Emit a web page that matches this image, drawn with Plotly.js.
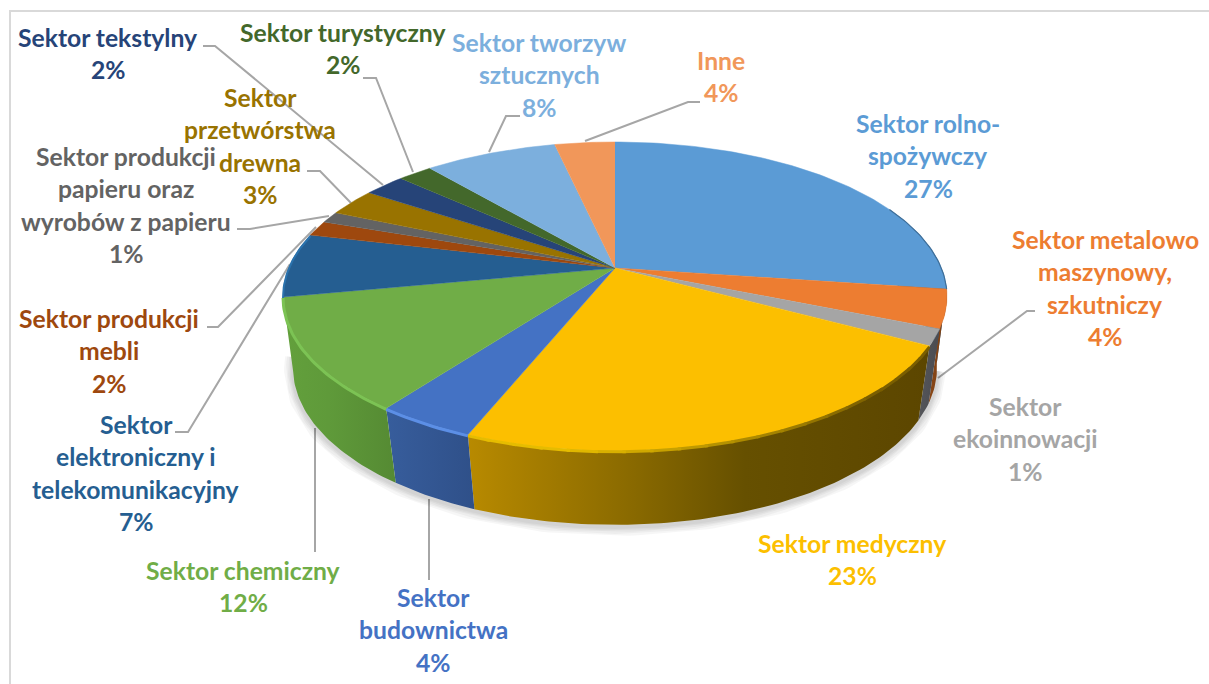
<!DOCTYPE html>
<html><head><meta charset="utf-8">
<script src="https://cdn.plot.ly/plotly-3.0.1.min.js"></script>
<style>html,body{margin:0;padding:0;background:#fff}#chart{width:1209px;height:684px}</style>
</head><body><div id="chart"></div>
<script>
// ---- data ----
const categories = ["Sektor rolno-spożywczy","Sektor metalowo maszynowy, szkutniczy","Sektor ekoinnowacji","Sektor medyczny","Sektor budownictwa","Sektor chemiczny","Sektor elektroniczny i telekomunikacyjny","Sektor produkcji mebli","Sektor produkcji papieru oraz wyrobów z papieru","Sektor przetwórstwa drewna","Sektor tekstylny","Sektor turystyczny","Sektor tworzyw sztucznych","Inne"];
const sliceShare = [27.2,4.0,1.7,23.2,4.1,11.8,6.7,1.6,1.2,2.9,2.4,2.0,7.7,3.5];
const percentLabels = ["27%","4%","1%","23%","4%","12%","7%","2%","1%","3%","2%","2%","8%","4%"];
const labelLines = [["Sektor rolno-","spożywczy"],["Sektor metalowo","maszynowy,","szkutniczy"],["Sektor","ekoinnowacji"],["Sektor medyczny"],["Sektor","budownictwa"],["Sektor chemiczny"],["Sektor","elektroniczny i","telekomunikacyjny"],["Sektor produkcji","mebli"],["Sektor produkcji","papieru oraz","wyrobów z papieru"],["Sektor","przetwórstwa","drewna"],["Sektor tekstylny"],["Sektor turystyczny"],["Sektor tworzyw","sztucznych"],["Inne"]];
const sliceColors = ["#5b9bd5","#ed7d31","#a5a5a5","#fcbf00","#4472c4","#70ad47","#255e91","#9e480e","#636363","#997300","#264478","#43682b","#7cafdd","#f1975a"];
const textColors = ["#5b9bd5","#ed7d31","#a5a5a5","#fcbf00","#4472c4","#70ad47","#255e91","#9e480e","#636363","#997300","#264478","#43682b","#7cafdd","#f1975a"];
const wallScales = [
 [[0,"#2f5a80"],[1,"#2f5a80"]],[[0,"#8a4818"],[1,"#7a3e12"]],[[0,"#55565a"],[1,"#4a4b50"]],
 [[0,"#b88a00"],[0.35,"#8a6a00"],[0.6,"#665000"],[1,"#5c4600"]],
 [[0,"#375d9c"],[1,"#2f5089"]],[[0,"#63a03c"],[0.4,"#5f9a3a"],[1,"#558a33"]],
 null,null,null,null,null,null,null,null];
const rimColors = [null,null,null,null,"#5c8fe6","#7cc354","#2a72ad",null,null,null,null,null,null,null];
const rimWidths = [0,0,0,0,3,3,2,0,0,0,0,0,0,0];

// layout of the labels (centre x, first line y)
const labelX = [928,1105,1025,852,433,243,136,109,126,260,108,343,539,721];
const labelY = [123,239,406,543,597,570,424,318,156,97,37,32,42,60];
const lineStep = 32.5;
const leaderPaths = ["M203 46 L215 46 L383 185","M363 78 L376 78 L413 172","M520 116 L506 116 L489 152","M700 102 L688 102 L585 141","M307 171 L320 171 L351 203","M237 229 L250 229 L329 216","M207 327 L218 327 L316 227","M175 432 L188 432 L290 264","M315 552 L315 428","M429 580 L429 499","M1035 311 L1027 311 L938 378"];

// ---- perspective projection of the pie discs ----
const topDisc = {cx:615, y0:268, A:326.3, B:149.2, k:0.184};
const botDisc = {cx:615, y0:341.6, A:317.4, B:152.5, k:0.168};
function proj(d, deg){
  const t = deg*Math.PI/180, X = Math.sin(t), Y = Math.cos(t), w = 1 + d.k*Y;
  return [d.cx + d.A*X/w, d.y0 - d.B*Y/w];
}
function arc(d, a, b){
  const pts = [], n = Math.max(2, Math.ceil(Math.abs(b-a)));
  for(let i=0;i<=n;i++) pts.push(proj(d, a+(b-a)*i/n));
  return pts;
}
const total = sliceShare.reduce((s,v)=>s+v,0);
let run = 0;
const bounds = sliceShare.map(v=>{const a=run/total*360; run+=v; return [a, run/total*360];});

const traces = [];
const xs = p=>p.map(q=>q[0]), ys = p=>p.map(q=>q[1]);

// soft shadow around the lower edge
[18,14,10,7,4].forEach(w=>{
  const p = arc(botDisc,100,265);
  traces.push({type:"scatter",mode:"lines",x:xs(p),y:ys(p).map(v=>v+2),hoverinfo:"skip",
    line:{color:"rgba(0,0,0,0.035)",width:w}});
});

// side walls
categories.forEach((c,i)=>{
  if(!wallScales[i]) return;
  const a = Math.max(bounds[i][0],70), b = bounds[i][1];
  const p = arc(topDisc,a,b).concat(arc(botDisc,b,a));
  traces.push({type:"scatter",mode:"lines",x:xs(p),y:ys(p),fill:"toself",hoverinfo:"skip",
    line:{width:0,color:wallScales[i][0][1]},
    fillcolor:wallScales[i][0][1],
    fillgradient:{type:"horizontal",colorscale:wallScales[i]}});
});

// top face
categories.forEach((c,i)=>{
  const p = [[topDisc.cx,topDisc.y0]].concat(arc(topDisc,bounds[i][0],bounds[i][1]));
  traces.push({type:"scatter",mode:"lines",name:c,x:xs(p),y:ys(p),fill:"toself",fillcolor:sliceColors[i],
    line:{width:0.5,color:sliceColors[i]},hoverinfo:"text",text:c+" "+percentLabels[i]});
});

// bevel along the front rim: the medical slice fades from dark to bright in short steps
const yb = bounds[3];
const fadeFrom = [122,94,0], fadeTo = [230,188,0], step = 4;
for(let a=yb[0]; a<yb[1]; a+=step){
  const f = Math.min(1, Math.max(0,(a-135)/(185-135)));
  const col = "rgb("+fadeFrom.map((v,n)=>Math.round(v+(fadeTo[n]-v)*f)).join(",")+")";
  const p = arc(topDisc,a,Math.min(a+step+0.5,yb[1]));
  traces.push({type:"scatter",mode:"lines",x:xs(p),y:ys(p).map(v=>v+1),hoverinfo:"skip",line:{color:col,width:3}});
}
categories.forEach((c,i)=>{
  if(!rimColors[i]) return;
  const p = arc(topDisc,bounds[i][0],Math.min(bounds[i][1],285));
  traces.push({type:"scatter",mode:"lines",x:xs(p),y:ys(p).map(v=>v+1),hoverinfo:"skip",line:{color:rimColors[i],width:rimWidths[i]}});
});
const dark = arc(topDisc,65,bounds[0][1]);
traces.push({type:"scatter",mode:"lines",x:xs(dark),y:ys(dark),hoverinfo:"skip",line:{color:"#3f6f99",width:1.2}});

// labels
const annotations = [];
labelLines.forEach((lines,i)=>{
  lines.concat([percentLabels[i]]).forEach((t,j)=>{
    annotations.push({x:labelX[i],y:labelY[i]+j*lineStep,xref:"x",yref:"y",text:t,showarrow:false,
      xanchor:"center",yanchor:"middle",font:{family:"Lato, 'Noto Sans', sans-serif",size:24.7,color:textColors[i],weight:700}});
  });
});

const shapes = leaderPaths.map(p=>({type:"path",path:p,layer:"below",line:{color:"#a6a6a6",width:2}}));
shapes.push({type:"path",path:"M10 684 L10 11 L1209 11",layer:"below",line:{color:"#d9d9d9",width:2}});

Plotly.newPlot("chart",traces,{
  width:1209,height:684,margin:{l:0,r:0,t:0,b:0},showlegend:false,
  paper_bgcolor:"#fff",plot_bgcolor:"#fff",
  xaxis:{range:[0,1209],visible:false,fixedrange:true},
  yaxis:{range:[684,0],visible:false,fixedrange:true},
  annotations,shapes
},{displayModeBar:false,staticPlot:true});
</script></body></html>
